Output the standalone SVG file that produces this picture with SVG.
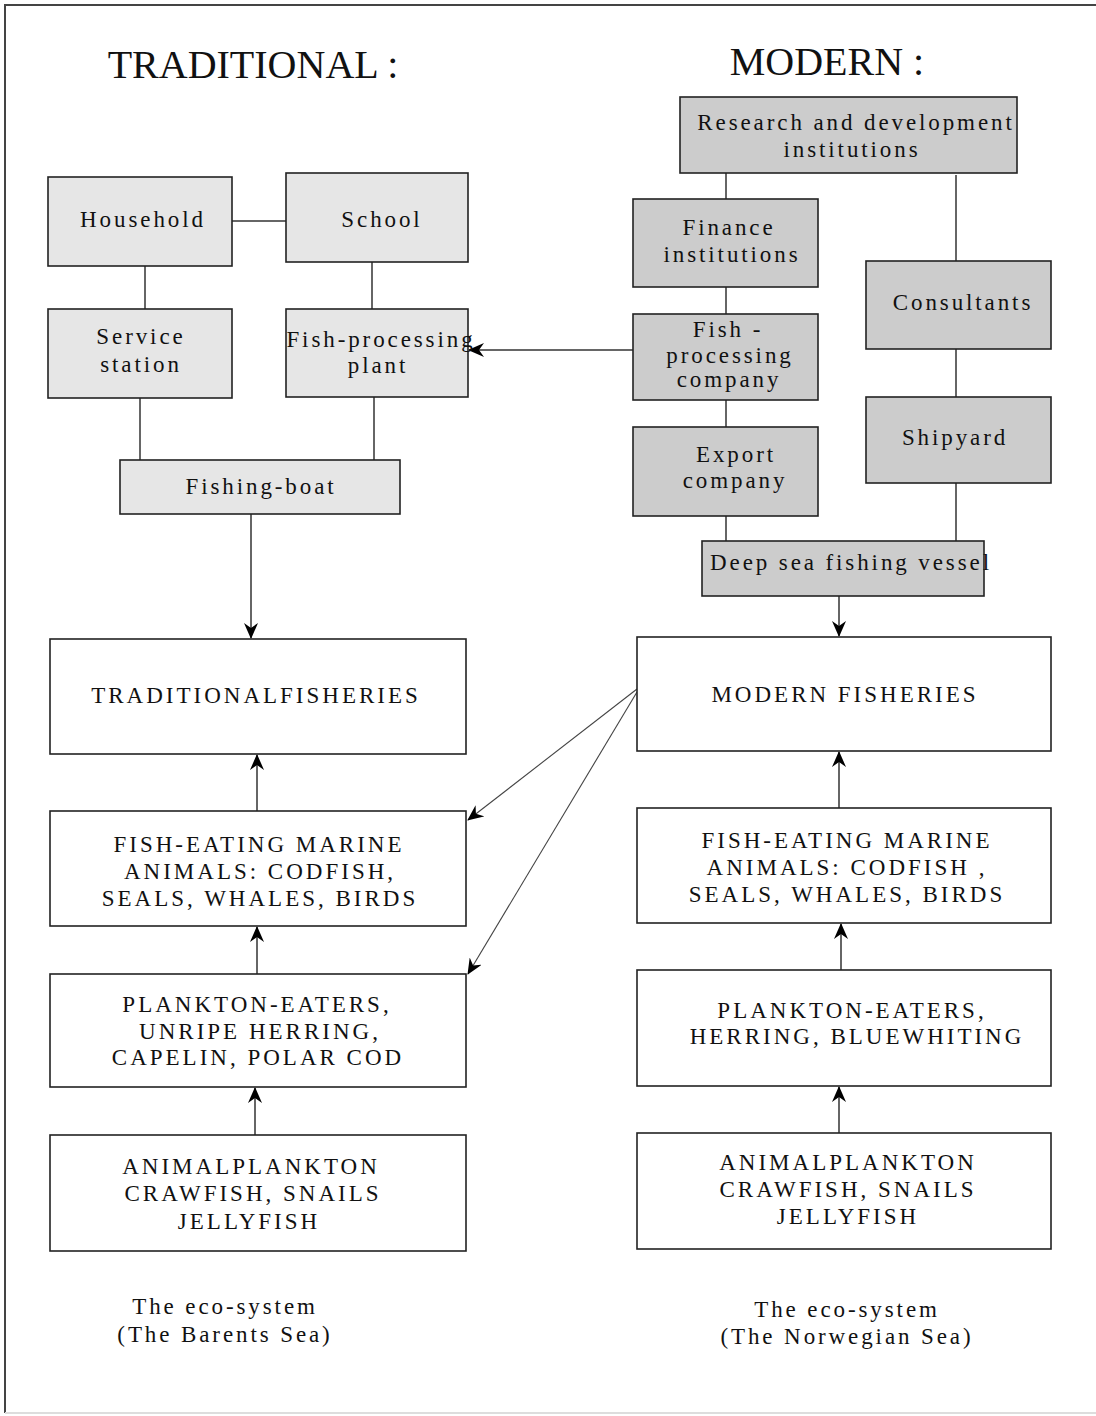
<svg xmlns="http://www.w3.org/2000/svg" width="1096" height="1416" viewBox="0 0 1096 1416">
<style>
text{font-family:"Liberation Serif","Times New Roman",serif;fill:#111;text-anchor:middle}
.t{font-size:23px;letter-spacing:2.9px}
.u{font-size:23px;letter-spacing:3px}
.h{font-size:40px}
.lg rect{fill:#e6e6e6;stroke:#222;stroke-width:1.6}
.dg rect{fill:#cccccc;stroke:#222;stroke-width:1.6}
.wh rect{fill:#fff;stroke:#222;stroke-width:1.6}
.c line{stroke:#333;stroke-width:1.5}
.c line.a{marker-end:url(#ah)}
.c line.d{stroke:#444;stroke-width:1.1}
</style>
<defs>
<marker id="ah" markerUnits="userSpaceOnUse" markerWidth="16" markerHeight="14" refX="15" refY="7" orient="auto" viewBox="0 0 16 14">
<path d="M0,0 L16,7 L0,14 L5,7 z" fill="#000"/>
</marker>
</defs>
<rect x="0" y="0" width="1096" height="1416" fill="#fff"/>
<path d="M5,1413 V5 H1096" fill="none" stroke="#444" stroke-width="2"/>
<line x1="5" y1="1413" x2="1096" y2="1413" stroke="#ddd" stroke-width="2"/>

<text class="h" x="253" y="78">TRADITIONAL :</text>
<text class="h" x="827" y="75">MODERN :</text>

<g class="c">
<line x1="232" y1="221" x2="286" y2="221"/>
<line x1="145" y1="266" x2="145" y2="309"/>
<line x1="372" y1="262" x2="372" y2="309"/>
<line x1="140" y1="398" x2="140" y2="460"/>
<line x1="374" y1="397" x2="374" y2="460"/>
<line class="a" x1="633" y1="350" x2="469" y2="350"/>
<line x1="726" y1="173" x2="726" y2="199"/>
<line x1="956" y1="175" x2="956" y2="261"/>
<line x1="726" y1="287" x2="726" y2="314"/>
<line x1="726" y1="400" x2="726" y2="427"/>
<line x1="956" y1="349" x2="956" y2="397"/>
<line x1="726" y1="516" x2="726" y2="541"/>
<line x1="956" y1="483" x2="956" y2="541"/>
<line class="a" x1="251" y1="514" x2="251" y2="638"/>
<line class="a" x1="839" y1="596" x2="839" y2="636"/>
<line class="a" x1="257" y1="811" x2="257" y2="755"/>
<line class="a" x1="257" y1="974" x2="257" y2="927"/>
<line class="a" x1="255" y1="1135" x2="255" y2="1088"/>
<line class="a" x1="839" y1="808" x2="839" y2="752"/>
<line class="a" x1="841" y1="970" x2="841" y2="924"/>
<line class="a" x1="839" y1="1133" x2="839" y2="1087"/>
<line class="a d" x1="637" y1="689" x2="468" y2="820"/>
<line class="a d" x1="637" y1="692" x2="468" y2="974"/>
</g>

<g id="household" class="lg"><rect x="48" y="177" width="184" height="89"/><text class="t" x="143" y="227">Household</text></g>
<g id="school" class="lg"><rect x="286" y="173" width="182" height="89"/><text class="t" x="382" y="227">School</text></g>
<g id="service" class="lg"><rect x="48" y="309" width="184" height="89"/><text class="t" x="141" y="344">Service</text><text class="t" x="141" y="372">station</text></g>
<g id="fpp" class="lg"><rect x="286" y="309" width="182" height="88"/><text class="t" x="381" y="347">Fish-processing</text><text class="t" x="378" y="373">plant</text></g>
<g id="fishingboat" class="lg"><rect x="120" y="460" width="280" height="54"/><text class="t" x="261" y="494">Fishing-boat</text></g>

<g id="research" class="dg"><rect x="680" y="97" width="337" height="76"/><text class="t" x="856" y="130">Research and development</text><text class="t" x="852" y="157">institutions</text></g>
<g id="finance" class="dg"><rect x="633" y="199" width="185" height="88"/><text class="t" x="729" y="235">Finance</text><text class="t" x="732" y="262">institutions</text></g>
<g id="consultants" class="dg"><rect x="866" y="261" width="185" height="88"/><text class="t" x="963" y="310">Consultants</text></g>
<g id="fpc" class="dg"><rect x="633" y="314" width="185" height="86"/><text class="t" x="728" y="337">Fish -</text><text class="t" x="730" y="363">processing</text><text class="t" x="729" y="387">company</text></g>
<g id="shipyard" class="dg"><rect x="866" y="397" width="185" height="86"/><text class="t" x="955" y="445">Shipyard</text></g>
<g id="export" class="dg"><rect x="633" y="427" width="185" height="89"/><text class="t" x="736" y="462">Export</text><text class="t" x="735" y="488">company</text></g>
<g id="deepsea" class="dg"><rect x="702" y="541" width="282" height="55"/><text class="t" x="851" y="570">Deep sea fishing vessel</text></g>

<g id="tradfish" class="wh"><rect x="50" y="639" width="416" height="115"/><text class="u" x="256" y="703">TRADITIONALFISHERIES</text></g>
<g id="tradeat" class="wh"><rect x="50" y="811" width="416" height="115"/><text class="u" x="259" y="852">FISH-EATING MARINE</text><text class="u" x="260" y="879">ANIMALS: CODFISH,</text><text class="u" x="260" y="906">SEALS, WHALES, BIRDS</text></g>
<g id="tradplank" class="wh"><rect x="50" y="974" width="416" height="113"/><text class="u" x="257" y="1012">PLANKTON-EATERS,</text><text class="u" x="260" y="1039">UNRIPE HERRING,</text><text class="u" x="258" y="1065">CAPELIN, POLAR COD</text></g>
<g id="tradanimal" class="wh"><rect x="50" y="1135" width="416" height="116"/><text class="u" x="251" y="1174">ANIMALPLANKTON</text><text class="u" x="253" y="1201">CRAWFISH, SNAILS</text><text class="u" x="249" y="1229">JELLYFISH</text></g>
<g id="tradeco"><text class="t" x="225" y="1314">The eco-system</text><text class="t" x="225" y="1342">(The Barents Sea)</text></g>

<g id="modfish" class="wh"><rect x="637" y="637" width="414" height="114"/><text class="u" x="845" y="702">MODERN FISHERIES</text></g>
<g id="modeat" class="wh"><rect x="637" y="808" width="414" height="115"/><text class="u" x="847" y="848">FISH-EATING MARINE</text><text class="u" x="847" y="875">ANIMALS: CODFISH ,</text><text class="u" x="847" y="902">SEALS, WHALES, BIRDS</text></g>
<g id="modplank" class="wh"><rect x="637" y="970" width="414" height="116"/><text class="u" x="852" y="1018">PLANKTON-EATERS,</text><text class="u" x="857" y="1044">HERRING, BLUEWHITING</text></g>
<g id="modanimal" class="wh"><rect x="637" y="1133" width="414" height="116"/><text class="u" x="848" y="1170">ANIMALPLANKTON</text><text class="u" x="848" y="1197">CRAWFISH, SNAILS</text><text class="u" x="848" y="1224">JELLYFISH</text></g>
<g id="modeco"><text class="t" x="847" y="1317">The eco-system</text><text class="t" x="847" y="1344">(The Norwegian Sea)</text></g>
</svg>
